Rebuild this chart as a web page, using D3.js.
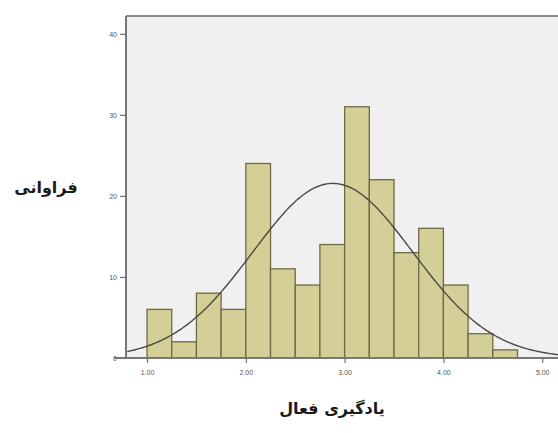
<!DOCTYPE html>
<html>
<head>
<meta charset="utf-8">
<script src="https://cdn.jsdelivr.net/npm/d3@7"></script>
<style>
  body { margin: 0; background: #fff; }
  svg { display: block; }
</style>
</head>
<body>
<svg id="chart" width="558" height="433"></svg>
<script>
// histogram bins (lower edge of each bin) and counts
var binStarts = [1.00, 1.25, 1.50, 1.75, 2.00, 2.25, 2.50, 2.75, 3.00, 3.25, 3.50, 3.75, 4.00, 4.25, 4.50];
var counts    = [6, 2, 8, 6, 24, 11, 9, 14, 31, 22, 13, 16, 9, 3, 1];
var binWidth = 0.25;

// fitted normal curve parameters (estimated)
var curveMean = 2.88;
var curveSd = 0.81;
var curveN = 175;

var xTicks = [1, 2, 3, 4, 5];
var yTicks = [0, 10, 20, 30, 40];
var xTitle = "یادگیری فعال";
var yTitle = "فراوانی";

var svg = d3.select("#chart");

//plot edges (window.top is reserved, so use other names)
var plotLeft = 126, plotTop = 16, plotBottom = 358, plotRight = 558;

var x = d3.scaleLinear().domain([0.787, 5.16]).range([plotLeft, plotRight]);
var y = d3.scaleLinear().domain([0, 42.2]).range([plotBottom, plotTop]);

//plot background
svg.append("rect")
.attr("x", plotLeft)
.attr("y", plotTop)
.attr("width", plotRight - plotLeft + 5)
.attr("height", plotBottom - plotTop)
.attr("fill", "#f0f0f0");

//bars
svg.selectAll("rect.bar")
.data(binStarts)
.enter()
.append("rect")
.attr("class", "bar")
.attr("x", function(d){ return x(d); })
.attr("width", function(d){ return x(d + binWidth) - x(d); })
.attr("y", function(d, i){ return y(counts[i]); })
.attr("height", function(d, i){ return y(0) - y(counts[i]); })
.attr("fill", "#d4cf96")
.attr("stroke", "#6e6a45")
.attr("stroke-width", 1.3);

//normal curve
var curvePts = d3.range(0.8, 5.2, 0.02).map(function(v){
	var z = (v - curveMean) / curveSd;
	return [v, curveN * binWidth * Math.exp(-0.5 * z * z) / (curveSd * Math.sqrt(2 * Math.PI))];
});

svg.append("path")
.datum(curvePts)
.attr("fill", "none")
.attr("stroke", "#4a4a42")
.attr("stroke-width", 1.4)
.attr("d", d3.line()
	.x(function(d){ return x(d[0]); })
	.y(function(d){ return y(d[1]); })
	.curve(d3.curveBasis));

//frame line on top
svg.append("line")
.attr("x1", plotLeft).attr("x2", plotRight)
.attr("y1", plotTop).attr("y2", plotTop)
.attr("stroke", "#8c8c8c")
.attr("stroke-width", 2);

//axes
var yAxis = d3.axisLeft(y).tickValues(yTicks).tickSize(6).tickFormat(d3.format("d"));
var gy = svg.append("g")
.attr("transform", "translate(" + plotLeft + ",0)")
.call(yAxis);

var xAxis = d3.axisBottom(x).tickValues(xTicks).tickSize(5).tickFormat(d3.format(".2f"));
var gx = svg.append("g")
.attr("transform", "translate(0," + plotBottom + ")")
.call(xAxis);

[gx, gy].forEach(function(g){
	g.select(".domain").attr("stroke", "#777").attr("stroke-width", 2);
	g.selectAll(".tick line").attr("stroke", "#6e6e6e").attr("stroke-width", 1.2);
	g.selectAll(".tick text")
	.attr("fill", "#555")
	.style("font-family", "Arial, 'Liberation Sans', sans-serif")
	.style("font-size", "7px");
});
gy.select(".domain").attr("d", "M0," + plotTop + "V" + plotBottom);
gx.select(".domain").attr("d", "M" + (plotLeft - 12) + ",0H" + plotRight);
gx.selectAll(".tick text").attr("dy", "1.3em");

//axis titles
svg.append("text")
.attr("x", 46)
.attr("y", 193)
.attr("text-anchor", "middle")
.attr("direction", "rtl")
.style("font-family", "'DejaVu Sans', 'Noto Sans', sans-serif")
.style("font-weight", "bold")
.style("font-size", "16px")
.attr("fill", "#1a1a1a")
.text(yTitle);

svg.append("text")
.attr("x", 332)
.attr("y", 414)
.attr("text-anchor", "middle")
.attr("direction", "rtl")
.style("font-family", "'DejaVu Sans', 'Noto Sans', sans-serif")
.style("font-weight", "bold")
.style("font-size", "16px")
.attr("fill", "#1a1a1a")
.text(xTitle);
</script>
</body>
</html>
